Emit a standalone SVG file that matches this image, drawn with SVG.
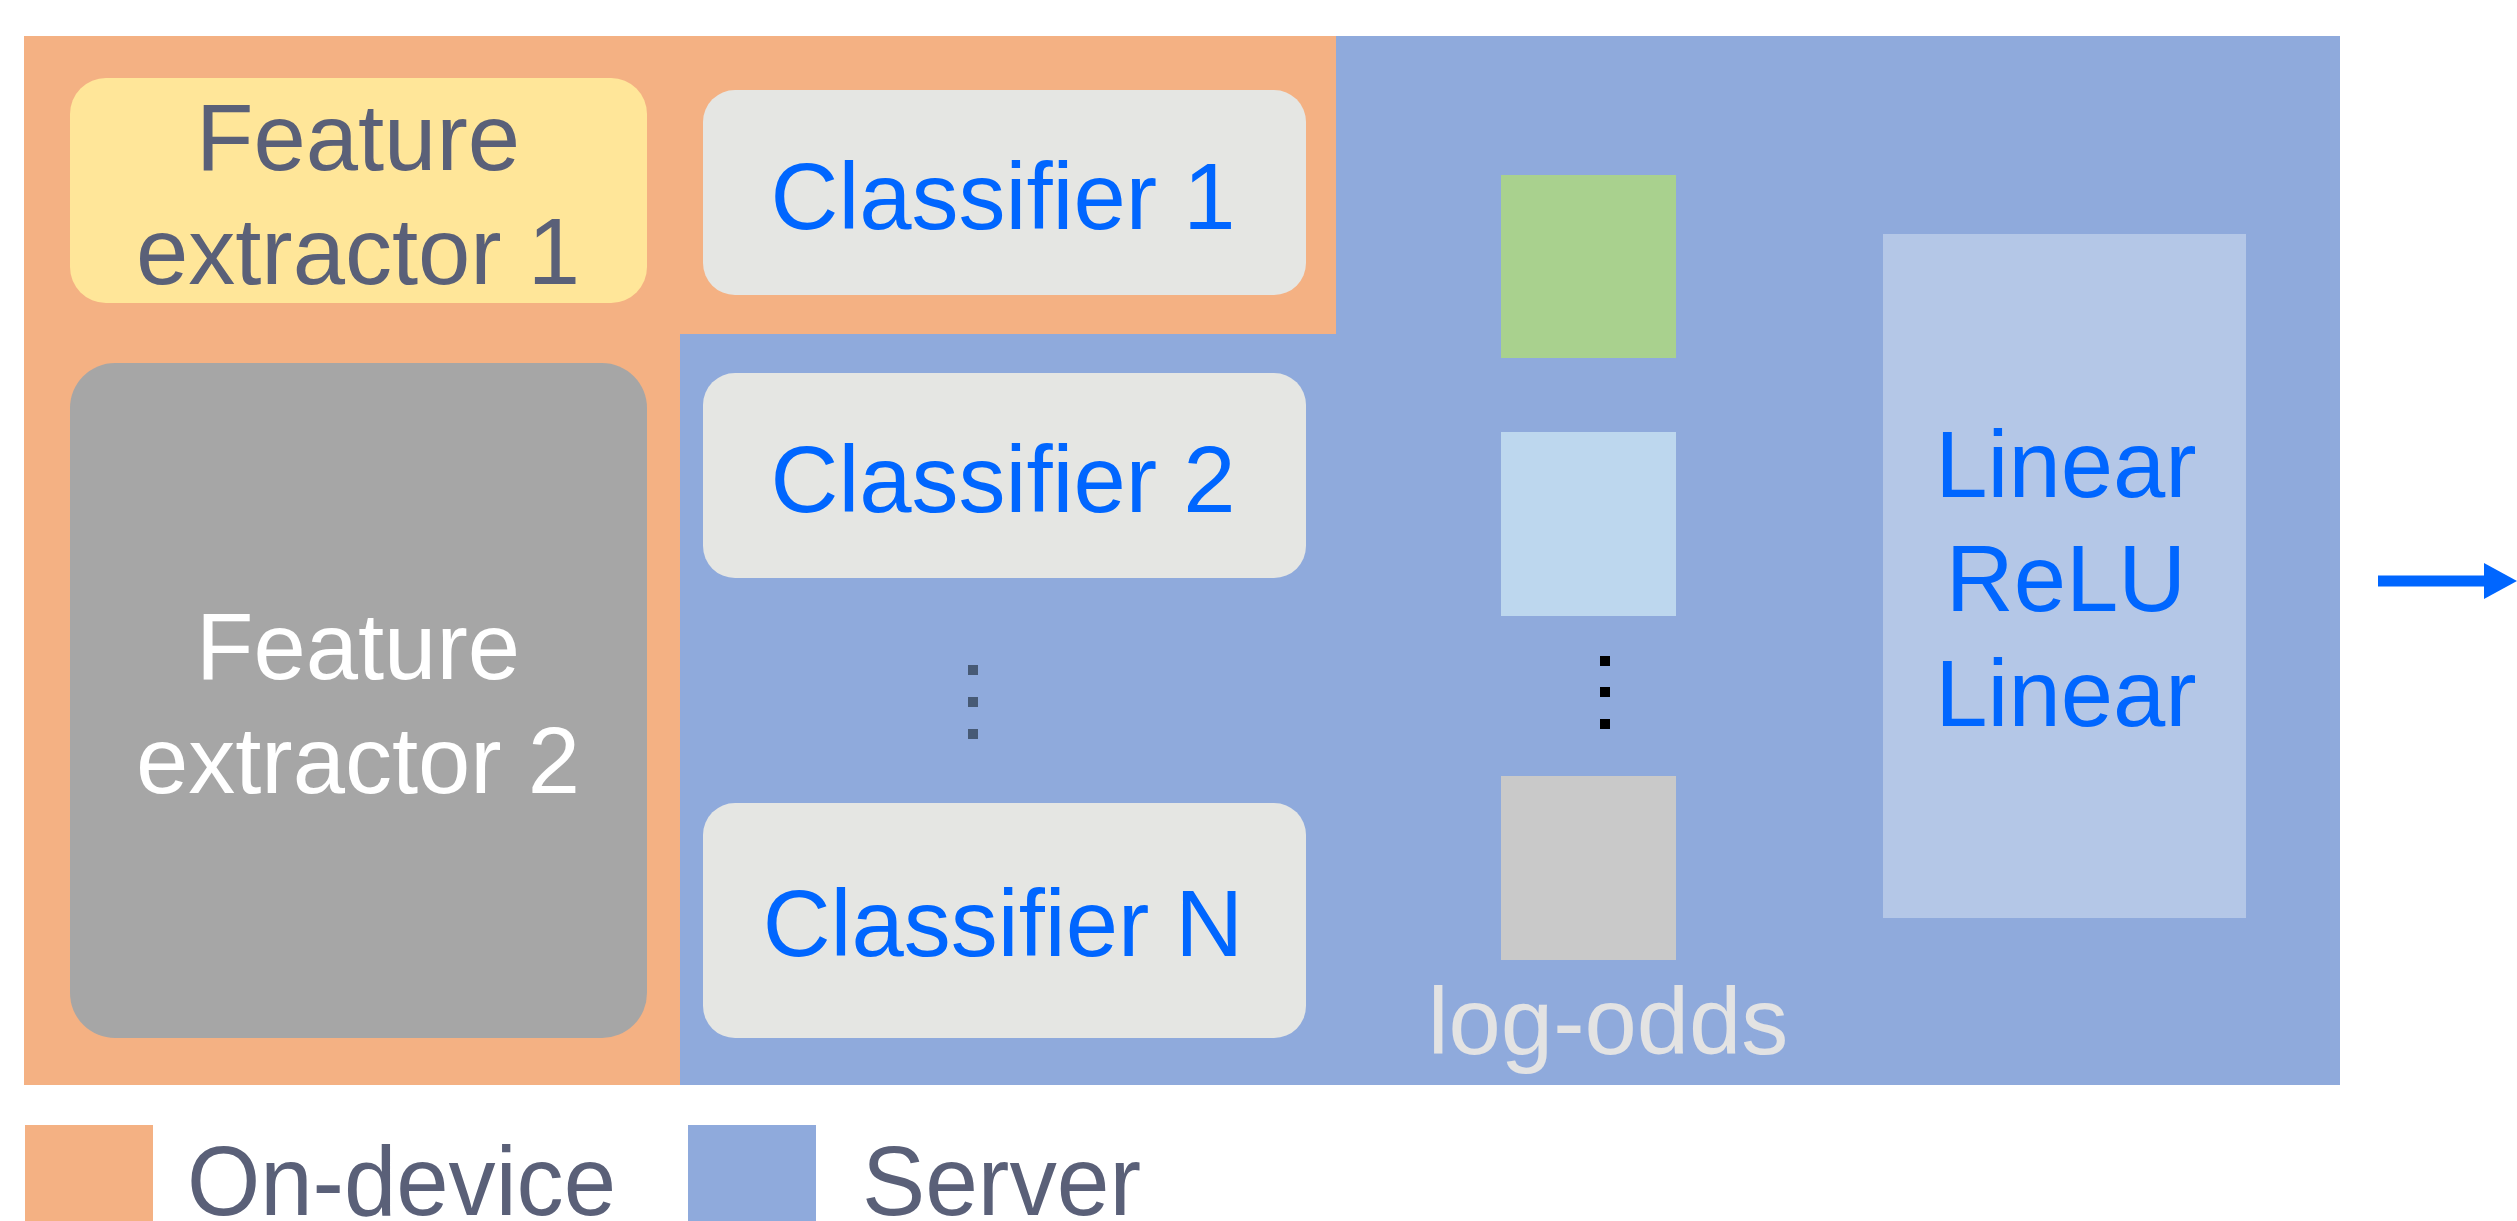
<svg xmlns="http://www.w3.org/2000/svg" width="2517" height="1221" viewBox="0 0 2517 1221">
<style>
text{font-family:"Liberation Sans",Arial,sans-serif;font-size:94px;text-anchor:middle}
.dark{fill:#5a6078}
.blue{fill:#0066ff}
.cls{fill:#e5e6e3}
</style>
<defs>
<marker id="ah" markerUnits="userSpaceOnUse" markerWidth="34" markerHeight="36" refX="0" refY="18" orient="auto">
<path d="M0,0 L33,18 L0,36 Z" fill="#0066ff"/>
</marker>
</defs>
<rect width="2517" height="1221" fill="#ffffff"/>
<g id="regions">
<rect x="24" y="36" width="656" height="1049" fill="#f4b183"/>
<rect x="680" y="36" width="1660" height="1049" fill="#8faadc"/>
<rect x="680" y="36" width="656" height="298" fill="#f4b183"/>
</g>
<g id="feature-extractor-1">
<rect x="70" y="78" width="577" height="225" rx="36" fill="#ffe699"/>
<text class="dark" x="358" y="170">Feature</text>
<text class="dark" x="358" y="284">extractor 1</text>
</g>
<g id="feature-extractor-2">
<rect x="70" y="363" width="577" height="675" rx="45" fill="#a6a6a6"/>
<text x="358" y="679" fill="#ffffff">Feature</text>
<text x="358" y="793" fill="#ffffff">extractor 2</text>
</g>
<g id="classifier-1">
<rect class="cls" x="703" y="90" width="603" height="205" rx="32"/>
<text class="blue" x="1003" y="229">Classifier 1</text>
</g>
<g id="classifier-2">
<rect class="cls" x="703" y="373" width="603" height="205" rx="32"/>
<text class="blue" x="1003" y="512">Classifier 2</text>
</g>
<g id="classifier-dots" fill="#475a75">
<rect x="968" y="665" width="10" height="10"/>
<rect x="968" y="697" width="10" height="10"/>
<rect x="968" y="729" width="10" height="10"/>
</g>
<g id="classifier-n">
<rect class="cls" x="703" y="803" width="603" height="235" rx="32"/>
<text class="blue" x="1003" y="956">Classifier N</text>
</g>
<g id="log-odds">
<rect x="1501" y="175" width="175" height="183" fill="#a9d18e"/>
<rect x="1501" y="432" width="175" height="184" fill="#bdd7ee"/>
<rect x="1600" y="656" width="10" height="10" fill="#000000"/>
<rect x="1600" y="687" width="10" height="10" fill="#000000"/>
<rect x="1600" y="719" width="10" height="10" fill="#000000"/>
<rect x="1501" y="776" width="175" height="184" fill="#c9c9c9"/>
<text x="1608" y="1054" fill="#e3e3e3">log-odds</text>
</g>
<g id="mlp">
<rect x="1883" y="234" width="363" height="684" fill="#b4c7e7"/>
<text class="blue" x="2066" y="497">Linear</text>
<text class="blue" x="2066" y="611">ReLU</text>
<text class="blue" x="2066" y="726">Linear</text>
</g>
<g id="connectors">
<line x1="2378" y1="581" x2="2484" y2="581" stroke="#0066ff" stroke-width="11" marker-end="url(#ah)"/>
</g>
<g id="legend">
<rect x="25" y="1125" width="128" height="96" fill="#f4b183"/>
<text class="dark" x="187" y="1215" style="text-anchor:start;font-size:99px" textLength="429" lengthAdjust="spacingAndGlyphs">On-device</text>
<rect x="688" y="1125" width="128" height="96" fill="#8faadc"/>
<text class="dark" x="862" y="1215" style="text-anchor:start;font-size:99px" textLength="279" lengthAdjust="spacingAndGlyphs">Server</text>
</g>
</svg>
